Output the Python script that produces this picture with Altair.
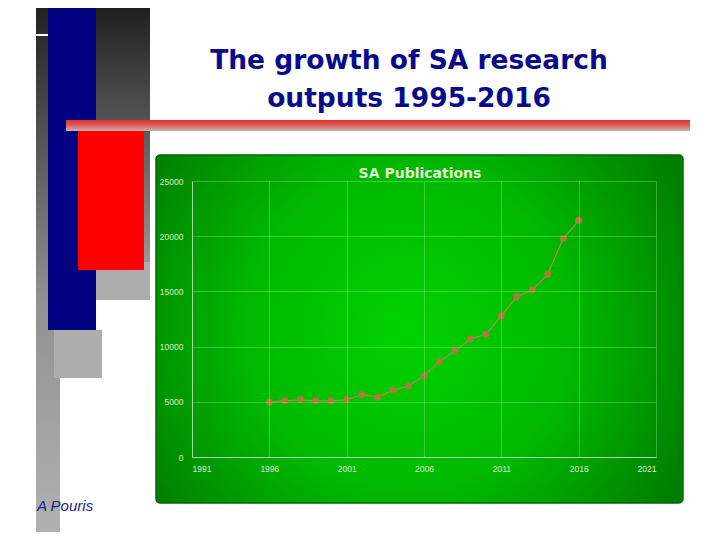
import altair as alt
import pandas as pd

# ---- data ----
years = list(range(1996, 2017))
pubs = [4970, 5090, 5180, 5090, 5090, 5180, 5660, 5420, 6050, 6420, 7370,
        8640, 9630, 10690, 11110, 12790, 14510, 15120, 16560, 19790, 21420]
x_ticks = [1991, 1996, 2001, 2006, 2011, 2016, 2021]
y_ticks = [0, 5000, 10000, 15000, 20000, 25000]

slide_title_1 = "The growth of SA research"
slide_title_2 = "outputs 1995-2016"
chart_title = "SA Publications"
author = "A Pouris"

# plot origin on page: (192, 181)
OX, OY = 192, 181
one = pd.DataFrame({"k": [0]})


def box(x, x2, y, y2, fill, **kw):
    return alt.Chart(one).mark_rect(fill=fill, **kw).encode(
        x=alt.value(x - OX), x2=alt.value(x2 - OX),
        y=alt.value(y - OY), y2=alt.value(y2 - OY))


def lin(c0, c1, mid=None):
    stops = [alt.GradientStop(color=c0, offset=0)]
    if mid:
        stops.append(alt.GradientStop(color=mid[0], offset=mid[1]))
    stops.append(alt.GradientStop(color=c1, offset=1))
    return alt.LinearGradient(gradient="linear", stops=stops, x1=0, x2=0, y1=0, y2=1)


def label(txt, x, y, **kw):
    return alt.Chart(one).mark_text(text=txt, baseline="alphabetic", **kw).encode(
        x=alt.value(x - OX), y=alt.value(y - OY))


green = alt.RadialGradient(
    gradient="radial",
    stops=[alt.GradientStop(color="#00d200", offset=0),
           alt.GradientStop(color="#00b800", offset=0.4),
           alt.GradientStop(color="#007e00", offset=0.75),
           alt.GradientStop(color="#006e00", offset=1)],
    x1=0.48, y1=0.5, r1=0, x2=0.48, y2=0.5, r2=0.78)

decor = [
    box(36, 150, 0, 300, lin("#1c1c1c", "#a8a8a8")),
    box(36, 60, 0, 540, lin("#1e1e1e", "#b2b2b2", ("#909090", 0.55))),
    box(96, 150, 262, 300, "#adadad"),
    box(54, 102, 330, 378, "#adadad"),
    box(48, 96, 0, 330, "#000080"),
    box(78, 144, 131, 270, "#ff0000"),
    box(66, 690, 120, 131, lin("#e42a2a", "#c9b2b2", ("#dc5a5a", 0.45))),
    box(36, 48, 34, 36, "#ffffff"),
    box(156, 683, 155, 503, green, stroke="#006a00", strokeWidth=1.5, cornerRadius=4),
    label(slide_title_1, 409, 69, font="DejaVu Sans", fontSize=26.5, fontWeight="bold",
          color="#0a0a8c", align="center"),
    label(slide_title_2, 409, 107, font="DejaVu Sans", fontSize=26.5, fontWeight="bold",
          color="#0a0a8c", align="center"),
    label(chart_title, 420, 178, font="DejaVu Sans", fontSize=14, fontWeight="bold",
          color="#e2f2d6", align="center"),
    label(author, 37, 511, font="Liberation Sans", fontSize=15, fontStyle="italic",
          color="#1c1c8c", align="left"),
]

df = pd.DataFrame({"year": years, "pubs": pubs})
x_enc = alt.X("year:Q", title=None,
              scale=alt.Scale(domain=[1991, 2021], nice=False, zero=False),
              axis=alt.Axis(values=x_ticks, format="d", labelPadding=7, zindex=1))
y_enc = alt.Y("pubs:Q", title=None,
              scale=alt.Scale(domain=[0, 25000], nice=False),
              axis=alt.Axis(values=y_ticks, format="d", labelPadding=9, zindex=1))

line = alt.Chart(df).mark_line(color="#b88b4d", strokeWidth=1.2).encode(x=x_enc, y=y_enc)
points = alt.Chart(df).mark_circle(size=48, color="#ad7a3a", opacity=1).encode(
    x="year:Q", y="pubs:Q")

chart = alt.layer(*decor, line, points).properties(
    width=464, height=276,
    autosize=alt.AutoSizeParams(type="none"),
    padding={"left": OX - 8, "top": OY - 8, "right": 56, "bottom": 75},
    background="white",
).configure_view(stroke=None, fill=None).configure_axis(
    ticks=False, grid=True,
    gridColor="#9cf09c", gridOpacity=0.35, gridWidth=1,
    domainColor="#a6d8a6", domainWidth=1,
    labelFont="Liberation Sans", labelFontSize=8.5, labelColor="#d8f0cc",
)

chart.save("out.html", embed_options={"renderer": "svg", "actions": False})
